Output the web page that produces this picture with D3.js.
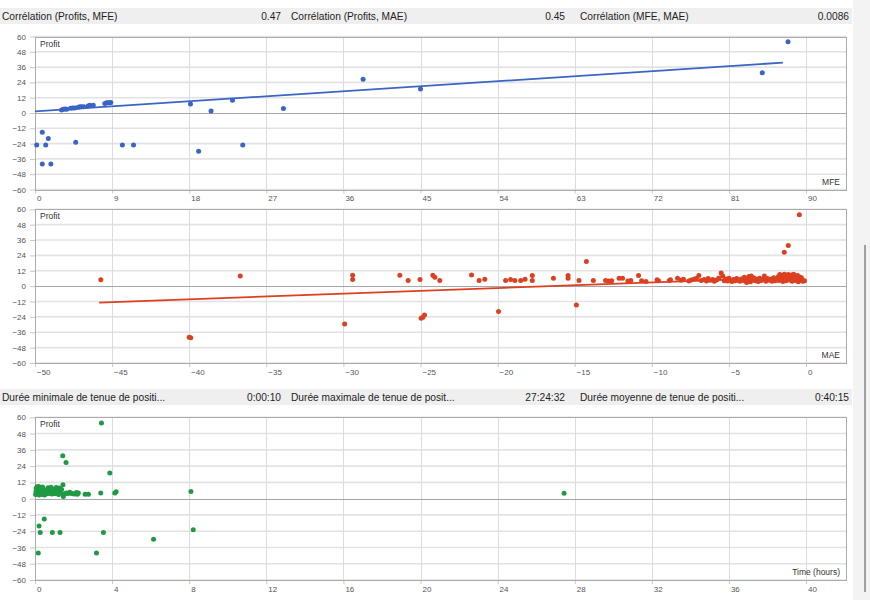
<!DOCTYPE html>
<html><head><meta charset="utf-8">
<script src="https://cdn.jsdelivr.net/npm/d3@7/dist/d3.min.js"></script>
<style>
html,body{margin:0;padding:0;background:#fff;}
svg{display:block;font-family:"Liberation Sans",Arial,sans-serif;}
</style></head>
<body><svg id="c" width="870" height="600"></svg>
<script>
// ---------- data ----------
const header1Labels = ["Corrélation (Profits, MFE)", "Corrélation (Profits, MAE)", "Corrélation (MFE, MAE)"];
const header1Values = ["0.47", "0.45", "0.0086"];
const header2Labels = ["Durée minimale de tenue de positi...", "Durée maximale de tenue de posit...", "Durée moyenne de tenue de positi..."];
const header2Values = ["0:00:10", "27:24:32", "0:40:15"];

const yTicks = [60, 48, 36, 24, 12, 0, -12, -24, -36, -48, -60];
const mfeTicks = [0, 9, 18, 27, 36, 45, 54, 63, 72, 81, 90];
const maeTicks = [-50, -45, -40, -35, -30, -25, -20, -15, -10, -5, 0];
const timeTicks = [0, 4, 8, 12, 16, 20, 24, 28, 32, 36, 40];

const mfePoints = [
  [0.2,-25],[0.85,-15],[1.25,-25],[1.55,-20],[0.85,-40],[1.85,-40],[4.75,-23],[10.2,-25],[11.5,-25],
  [18.15,7],[19.1,-30],[20.55,1.5],[23.05,10],[24.25,-25],[29,3.5],[38.3,26.4],[45.0,18.8],[84.9,31.6],[87.9,55.9],
  [3.1,2.4],[3.3,3.0],[3.5,3.2],[3.7,3.0],[4.15,3.8],[4.4,4.0],[4.65,4.0],[5.05,4.5],[5.25,5.0],[5.45,5.0],
  [5.7,5.0],[6.2,5.5],[6.4,6.0],[6.8,6.0],[8.15,7.5],[8.35,8.0],[8.55,8.0],[8.75,8.0],[8.85,8.2]
];
const mfeTrend = [[0, 1.3], [87.3, 39.5]];

const maePoints = [
  [-45.73,4.9],[-40.0,-39.8],[-39.9,-40.2],[-36.69,8.0],[-29.92,-29.6],[-29.4,8.6],[-29.4,5.2],[-26.34,8.6],
  [-25.8,4.4],[-25.03,5.2],[-24.96,-25],[-24.85,-24.2],[-24.74,-22.6],[-24.2,8.6],[-24.07,7.0],[-23.75,4.4],
  [-21.69,8.8],[-21.2,4.4],[-20.83,5.4],[-19.94,-19.8],[-19.48,4.4],[-19.16,5.2],[-18.88,4.4],[-18.5,4.4],
  [-18.22,5.4],[-17.75,8.3],[-17.75,4.4],[-16.38,6.2],[-15.43,8.3],[-15.43,6.2],[-14.89,-14.8],[-14.72,4.4],
  [-14.24,19.2],[-13.79,4.4],[-13.0,4.4],[-12.8,4.0],[-12.6,4.2],[-12.12,6.2],[-11.9,6.2],[-11.55,4.0],
  [-11.36,4.4],[-10.86,8.3],[-10.66,4.2],[-10.38,3.6],[-9.66,5.0],[-9.57,4.2],[-8.86,4.4],[-8.79,5.0],[-8.33,6.2],
  [-8.1,4.6],[-7.95,5.3],[-7.6,4.1],[-7.45,4.8],[-7.25,5.6],[-7.1,6.0],[-6.95,8.4],[-6.8,4.5],[-6.6,5.1],
  [-6.45,4.0],[-6.35,5.9],[-6.2,4.6],[-6.05,5.2],[-5.95,3.9],[-5.8,4.8],[-5.65,6.3],[-5.5,10.3],[-5.4,8.0],
  [-5.3,4.3],[-5.2,5.5],[-5.1,4.0],[-5.0,6.1],[-4.9,4.7],[-4.8,3.6],[-4.7,5.2],[-4.6,4.2],[-4.5,6.0],[-4.4,4.8],
  [-4.3,3.8],[-4.2,5.6],[-4.1,4.4],[-4.0,7.0],[-3.9,4.0],[-3.85,2.8],[-3.8,5.9],[-3.75,4.6],[-3.7,7.6],
  [-3.6,3.4],[-3.55,8.0],[-3.5,5.0],[-3.4,6.5],[-3.3,4.2],[-3.2,5.6],[-3.1,3.6],[-3.0,6.2],[-2.9,4.4],[-2.8,5.2],
  [-2.7,8.0],[-2.6,3.8],[-2.5,6.0],[-2.4,4.6],[-2.3,5.4],[-2.2,3.9],[-2.1,6.6],[-2.0,4.2],[-1.9,5.8],[-1.8,7.4],
  [-1.75,4.4],[-1.7,9.0],[-1.6,5.2],[-1.55,8.6],[-1.5,3.6],[-1.45,7.0],[-1.4,9.2],[-1.35,5.8],[-1.3,4.2],
  [-1.25,8.4],[-1.2,6.4],[-1.15,9.0],[-1.1,4.8],[-1.05,7.6],[-1.0,5.4],[-0.95,8.8],[-0.9,3.8],[-0.85,6.8],
  [-0.8,9.2],[-0.75,5.0],[-0.7,7.8],[-0.65,4.4],[-0.6,6.2],[-0.55,8.4],[-0.5,3.4],[-0.45,5.6],[-0.4,7.2],
  [-0.35,4.6],[-0.3,6.6],[-0.25,5.2],[-0.2,3.8],[-0.1,4.2],
  [-1.41,26.5],[-1.15,31.7],[-0.43,55.8]
];
const maeTrend = [[-45.84, -12.8], [-0.3, 7.2]];

const timePoints = [
  [3.45,55.8],[1.44,31.7],[1.61,26.6],[3.88,19],[1.45,10.3],[3.41,4.2],[4.14,4.2],[4.21,5.0],[8.09,5.2],
  [8.21,-22.9],[6.15,-30],[3.55,-25],[3.19,-40],[0.17,-40],[0.21,-20.1],[0.27,-25],[0.48,-15],[0.9,-25],
  [1.3,-25],[1.47,1.5],[27.45,4],[2.6,3.2],[2.77,3.2],
  [0.03,3.0],[0.05,5.0],[0.06,7.6],[0.08,4.0],[0.1,6.4],[0.11,8.8],[0.13,3.4],[0.14,5.6],[0.16,7.0],[0.18,4.4],
  [0.19,9.0],[0.21,2.6],[0.22,6.0],[0.24,4.8],[0.26,8.2],[0.27,3.6],[0.29,5.4],[0.31,7.4],[0.33,4.2],[0.35,6.6],
  [0.37,3.0],[0.39,8.6],[0.41,5.0],[0.43,3.8],[0.45,6.8],[0.48,4.6],[0.5,2.6],[0.53,5.8],[0.56,3.4],[0.6,4.4],
  [0.63,6.2],[0.67,8.0],[0.7,3.8],[0.73,5.2],[0.77,7.4],[0.8,4.2],[0.83,8.4],[0.87,3.4],[0.9,6.0],[0.94,4.8],
  [0.98,7.0],[1.02,3.6],[1.06,5.4],[1.1,8.2],[1.14,4.0],[1.18,6.4],[1.22,3.0],[1.26,7.8],[1.3,5.0],[1.34,4.2],
  [1.38,6.8],[1.55,3.6],[1.63,4.2],[1.72,3.8],[1.8,4.8],[1.88,4.0],[1.95,3.6],[2.05,3.4],[2.15,4.6],[2.2,3.2],[2.25,4.2]
];

// ---------- drawing ----------
const svg = d3.select("#c");
const L = 35, R = 846, XEND = 806;

// scrollbar strip
svg.append("rect").attr("x", 853).attr("y", 0).attr("width", 17).attr("height", 600).attr("fill", "#f3f3f3");
svg.append("rect").attr("x", 864).attr("y", 245).attr("width", 2).attr("height", 347).attr("fill", "#a0a0a0");

function headerBar(y, labels, values) {
  const g = svg.append("g");
  g.append("rect").attr("x", 0).attr("y", y).attr("width", 852).attr("height", 16).attr("fill", "#efefef");
  const starts = [2, 291, 580], ends = [281, 565, 849];
  labels.forEach((t, i) => {
    g.append("text").attr("x", starts[i]).attr("y", y + 12).attr("font-size", 10.2).attr("fill", "#1e1e1e").text(t);
    g.append("text").attr("x", ends[i]).attr("y", y + 12).attr("font-size", 10.2).attr("fill", "#1e1e1e")
      .attr("text-anchor", "end").text(values[i]);
  });
}
headerBar(8, header1Labels, header1Values);
headerBar(389, header2Labels, header2Values);

function panel(cfg) {
  const g = svg.append("g");
  const x = d3.scaleLinear().domain([cfg.xTicks[0], cfg.xTicks[cfg.xTicks.length - 1]]).range([L, XEND]);
  const y = d3.scaleLinear().domain([-60, 60]).range([cfg.bottom, cfg.top]);

  // grid
  g.selectAll(".hg").data(yTicks.filter(v => v !== 0)).join("line")
    .attr("x1", L).attr("x2", R).attr("y1", d => y(d)).attr("y2", d => y(d))
    .attr("stroke", "#e3e3e3").attr("stroke-width", 1.6);
  g.selectAll(".vg").data(cfg.xTicks).join("line")
    .attr("x1", d => Math.round(x(d)) + 0.5).attr("x2", d => Math.round(x(d)) + 0.5)
    .attr("y1", cfg.top).attr("y2", cfg.bottom)
    .attr("stroke", "#dcdcdc").attr("stroke-width", 1);
  g.append("line").attr("x1", L).attr("x2", R).attr("y1", Math.round(y(0)) + 0.5).attr("y2", Math.round(y(0)) + 0.5)
    .attr("stroke", "#a6a6a6").attr("stroke-width", 1);

  // axes
  const ya = g.append("g").attr("transform", `translate(${L},0)`)
    .call(d3.axisLeft(y).tickValues(yTicks).tickSize(5).tickPadding(4).tickFormat(d3.format("d")));
  const xa = g.append("g").attr("transform", `translate(0,${cfg.bottom})`)
    .call(d3.axisBottom(x).tickValues(cfg.xTicks).tickSize(4).tickPadding(2).tickFormat(d3.format("d")));
  [ya, xa].forEach(a => {
    a.select(".domain").remove();
    a.selectAll(".tick line").attr("stroke", "#c8c8c8");
    a.selectAll(".tick text").attr("fill", "#555").attr("font-size", 8)
      .attr("font-family", "Liberation Sans, Arial, sans-serif");
  });
  xa.selectAll(".tick text").attr("text-anchor", "start").attr("dx", 1.5).attr("dy", "0.71em");

  // frame
  g.append("rect").attr("x", L + 0.5).attr("y", Math.round(cfg.top) + 0.5)
    .attr("width", R - L).attr("height", Math.round(cfg.bottom) - Math.round(cfg.top))
    .attr("fill", "none").attr("stroke", "#ababab");

  // trend
  if (cfg.trend) {
    g.append("path").datum(cfg.trend)
      .attr("d", d3.line().x(d => x(d[0])).y(d => y(d[1])))
      .attr("fill", "none").attr("stroke", cfg.color).attr("stroke-width", 1.8);
  }
  // points
  g.selectAll(".pt").data(cfg.points).join("circle")
    .attr("cx", d => x(d[0])).attr("cy", d => y(d[1])).attr("r", 2.5).attr("fill", cfg.color);

  // labels
  g.append("text").attr("x", 40).attr("y", cfg.top + 10).attr("font-size", 8.5).attr("fill", "#333").text("Profit");
  g.append("text").attr("x", 840).attr("y", cfg.bottom - 5).attr("font-size", 8.5).attr("fill", "#333")
    .attr("text-anchor", "end").text(cfg.xLabel);
}

panel({ top: 36.5, bottom: 189.5, xTicks: mfeTicks, points: mfePoints, trend: mfeTrend, color: "#3a64c6", xLabel: "MFE" });
panel({ top: 209.3, bottom: 363, xTicks: maeTicks, points: maePoints, trend: maeTrend, color: "#dc4020", xLabel: "MAE" });
panel({ top: 417.3, bottom: 580, xTicks: timeTicks, points: timePoints, trend: null, color: "#1f9a43", xLabel: "Time (hours)" });
</script>
</body></html>
